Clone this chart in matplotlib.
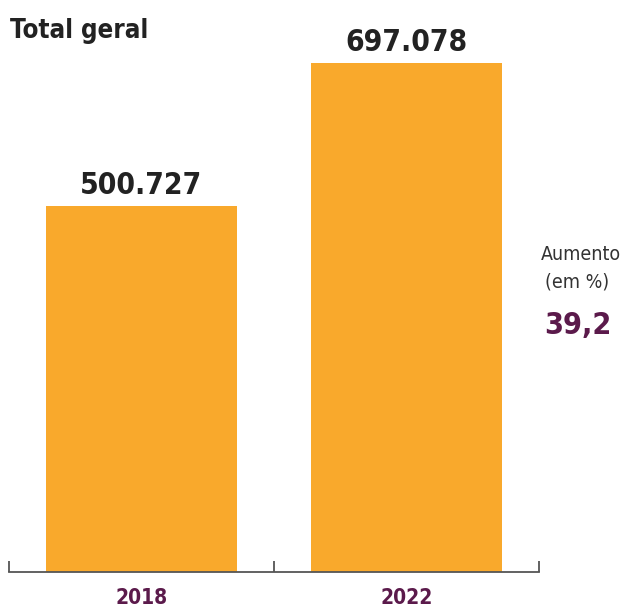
import matplotlib
matplotlib.use("Agg")
import matplotlib.pyplot as plt

years = ["2018", "2022"]
values = [500727, 697078]
increase_label = "39,2"
title = "Total geral"

W, H = 621, 609
fig = plt.figure(figsize=(W / 100, H / 100), dpi=100)
fig.patch.set_facecolor("white")

# axes in pixel coordinates: x from 9 to 539, y from 572 (baseline) to 0
ax = fig.add_axes([9 / W, (H - 572) / H, 530 / W, 572 / H])
ax.set_xlim(-0.5, 1.5)
ax.set_ylim(0, 697078 * 572 / 509)

bar_color = "#F9A92C"
purple = "#5B1A4B"
dark = "#222222"
fam = ["DejaVu Sans"]

x = list(range(len(years)))
bars = ax.bar(x, values, width=0.717, color=bar_color, zorder=2)

for xi, v in zip(x, values):
    ax.annotate(f"{v:,}".replace(",", "."), (xi, v), xytext=(0, 6), textcoords="offset pixels",
                ha="center", va="bottom", fontsize=21.5, fontweight="bold", color=dark,
                fontstretch="condensed", family=fam)

for s in ["top", "left", "right"]:
    ax.spines[s].set_visible(False)
ax.spines["bottom"].set_color("#555555")
ax.spines["bottom"].set_linewidth(1.3)
ax.set_yticks([])
ax.set_xticks([-0.5, 0.5, 1.5])
ax.tick_params(axis="x", direction="in", length=8, width=1.3, color="#555555", labelbottom=False)

for xi, yr in zip(x, years):
    ax.text(xi, -16 / 572, yr, transform=ax.get_xaxis_transform(), ha="center", va="top",
            fontsize=15, fontweight="bold", color=purple, family=fam, fontstretch="condensed")

fig.text(10 / W, 1 - 31 / H, title, ha="left", va="center", fontsize=18.5, fontweight="bold",
         color=dark, family=fam, fontstretch="condensed")
fig.text(581 / W, 1 - 255 / H, "Aumento", ha="center", va="center", fontsize=14,
         color="#333333", family=fam, fontstretch="condensed")
fig.text(577 / W, 1 - 282 / H, "(em %)", ha="center", va="center", fontsize=14,
         color="#333333", family=fam, fontstretch="condensed")
fig.text(578 / W, 1 - 326 / H, increase_label, ha="center", va="center", fontsize=22,
         fontweight="bold", color=purple, family=fam, fontstretch="condensed")

fig.savefig("out.png", dpi=100, facecolor="white")
